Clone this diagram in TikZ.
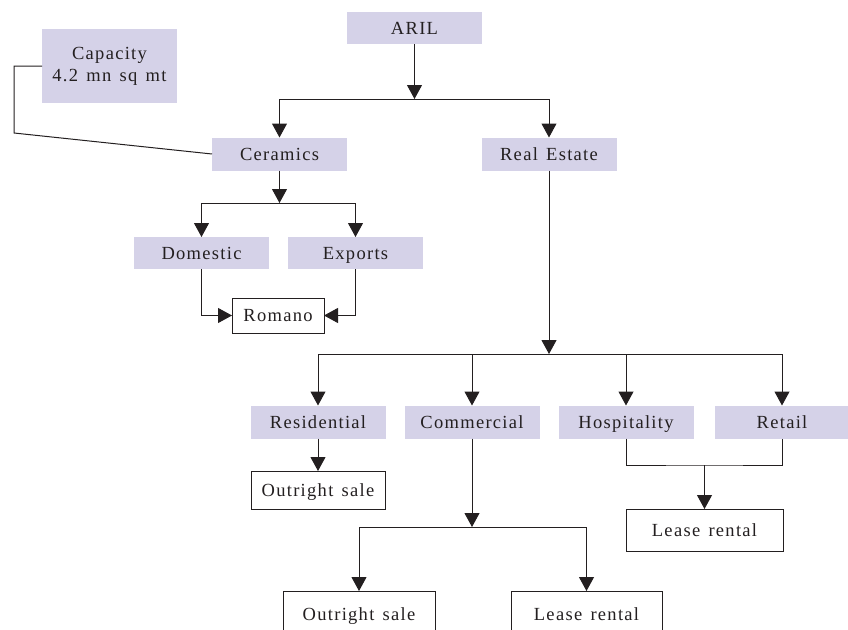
\documentclass[tikz,border=0pt]{standalone}
\usepackage{fontspec}
\setmainfont[LetterSpace=7,WordSpace=1.4]{Liberation Serif}
\usetikzlibrary{arrows.meta}
\definecolor{lav}{RGB}{213,210,232}
\definecolor{ink}{RGB}{35,31,32}
\begin{document}
\begin{tikzpicture}[x=1pt,y=-1pt,
  font=\fontsize{18.5}{22}\selectfont,
  every node/.style={inner sep=0pt,outer sep=0pt,text=ink,align=center},
  one/.style={text height=12.5,text depth=0.5},
  fbox/.style={one,fill=lav,minimum width=135,minimum height=33},
  wbox/.style={one,draw=ink,line width=1pt,fill=white},
  line/.style={draw=ink,line width=1pt},
  arr/.style={line,-{Triangle[width=15pt,length=14pt]}}]
\useasboundingbox (0,0) rectangle (848,629);
% nodes
\node[fbox,minimum height=32] (aril) at (414.5,28) {ARIL};
\node[fill=lav,minimum width=135,minimum height=74] (cap) at (109.5,66) {Capacity\\4.2 mn sq mt};
\node[fbox] (cer) at (279.5,154) {Ceramics};
\node[fbox] (re) at (549,154) {Real Estate};
\node[fbox,minimum height=32] (dom) at (201.5,253) {Domestic};
\node[fbox,minimum height=32] (exp) at (355.5,253) {Exports};
\node[wbox,minimum width=92,minimum height=35] (rom) at (278,315.5) {Romano};
\node[fbox] (res) at (318,422) {Residential};
\node[fbox] (com) at (472,422) {Commercial};
\node[fbox] (hos) at (626,422) {Hospitality};
\node[fbox] (ret) at (782,422) {Retail};
\node[wbox,minimum width=134,minimum height=38] (os1) at (318,490) {Outright sale};
\node[wbox,minimum width=157,minimum height=42] (lr1) at (704.5,530) {Lease rental};
\node[wbox,minimum width=152,minimum height=46] (os2) at (359,614) {Outright sale};
\node[wbox,minimum width=151,minimum height=46] (lr2) at (586.5,614) {Lease rental};
% junctions
\coordinate (j1) at (414.5,99);
\coordinate (j2) at (279.5,203);
\coordinate (j3) at (549,354);
\coordinate (j4) at (704.5,465);
\coordinate (j5) at (472,527);
\coordinate (c1) at (14,66);
\coordinate (c2) at (14,133);
% connectors
\draw[arr] (aril.south) -- (j1);
\draw[arr] (j1) -| (cer.north);
\draw[arr] (j1) -| (re.north);
\draw[line] (cap.west) -- (c1) -- (c2) -- (cer.west);
\draw[arr] (cer.south) -- (j2);
\draw[arr] (j2) -| (dom.north);
\draw[arr] (j2) -| (exp.north);
\draw[arr] (dom.south) |- (rom.west);
\draw[arr] (exp.south) |- (rom.east);
\draw[arr] (re.south) -- (j3);
\draw[arr] (j3) -| (res.north);
\draw[arr] (j3) -| (com.north);
\draw[arr] (j3) -| (hos.north);
\draw[arr] (j3) -| (ret.north);
\draw[arr] (res.south) -- (os1.north);
\draw[line] (hos.south) |- (j4) -| (ret.south);
\draw[arr] (j4) -- (lr1.north);
\draw[arr] (com.south) -- (j5);
\draw[arr] (j5) -| (os2.north);
\draw[arr] (j5) -| (lr2.north);
\end{tikzpicture}
\end{document}
